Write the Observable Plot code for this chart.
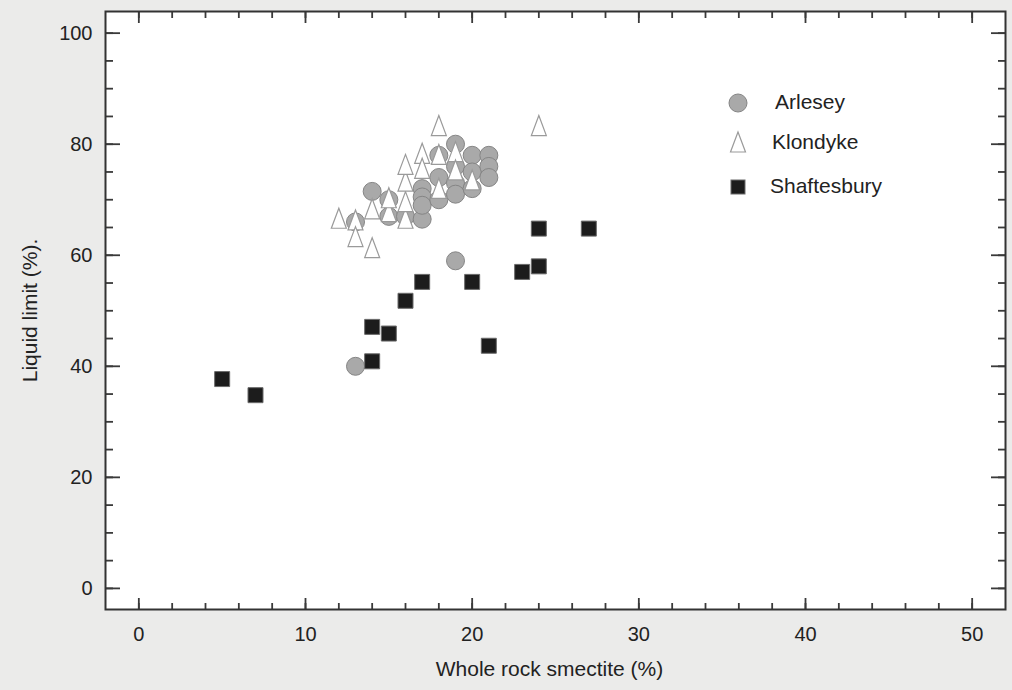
<!DOCTYPE html>
<html>
<head>
<meta charset="utf-8">
<script src="https://cdn.jsdelivr.net/npm/d3@7"></script>
<script src="https://cdn.jsdelivr.net/npm/@observablehq/plot@0.6"></script>
<style>
  html, body { margin: 0; padding: 0; background: #ebebea; }
  #wrap { position: relative; width: 1012px; height: 690px; font-family: "Liberation Sans", Arial, sans-serif; color: #222; }
  #legend { position: absolute; left: 725px; top: 88px; font-size: 21px; }
  #legend .row { position: absolute; left: 0; height: 30px; width: 220px; }
  #legend svg { position: absolute; left: 0; top: 0; }
  #legend span { position: absolute; white-space: nowrap; }
</style>
</head>
<body>
<div id="wrap"><div id="chart"></div><div id="legend"></div></div>
<script>
// ---- data ----
const seriesNames = ["Arlesey", "Klondyke", "Shaftesbury"];

const arleseyX = [13, 14, 15, 15, 16, 17, 17, 17, 17, 18, 18, 18, 19, 19, 19, 19, 20, 20, 20, 21, 21, 21, 19, 13];
const arleseyY = [66, 71.5, 70, 67, 67, 66.5, 72, 70.5, 69, 74, 78, 70, 80, 76, 73, 71, 78, 75, 72, 78, 76, 74, 59, 40];

const klondykeX = [12, 13, 13, 14, 14, 15, 15, 16, 16, 16, 16, 17, 17, 18, 18, 18, 19, 19, 20, 24];
const klondykeY = [66.3, 66, 63, 61, 68, 67.5, 70, 66.3, 69.3, 73, 76, 78, 75.3, 83, 77.8, 71.7, 78.3, 75, 73.2, 83];

const shaftesburyX = [5, 7, 14, 14, 15, 16, 17, 20, 21, 23, 24, 24, 27];
const shaftesburyY = [37.7, 34.8, 47.1, 40.9, 45.9, 51.8, 55.2, 55.2, 43.7, 57, 58, 64.8, 64.8];

const xMajorTicks = [0, 10, 20, 30, 40, 50];
const xMinorTicks = d3.range(0, 51, 2);
const yMajorTicks = [0, 20, 40, 60, 80, 100];
const yMinorTicks = d3.range(0, 101, 5);

const xLabel = "Whole rock smectite (%)";
const yLabel = "Liquid limit (%).";

// ---- build tables ----
const toRows = (xs, ys) => xs.map((x, i) => ({x, y: ys[i]}));
const arlesey = toRows(arleseyX, arleseyY);
const klondyke = toRows(klondykeX, klondykeY);
const shaftesbury = toRows(shaftesburyX, shaftesburyY);

// custom symbols
const tallTriangle = {draw(ctx) { ctx.moveTo(0, -12); ctx.lineTo(7.5, 8); ctx.lineTo(-7.5, 8); ctx.closePath(); }};
const bigSquare = {draw(ctx) { ctx.rect(-7.5, -7.5, 15, 15); }};

const tickStroke = "#3a3a3a";
const tickAxes = [];
for (const anchor of ["bottom", "top"]) {
  tickAxes.push(Plot.axisX(xMinorTicks, {anchor, tickSize: -6, text: null, label: null, stroke: tickStroke, strokeWidth: 1.8}));
  tickAxes.push(Plot.axisX(xMajorTicks, {anchor, tickSize: -11, text: null, label: null, stroke: tickStroke, strokeWidth: 1.8}));
}
for (const anchor of ["left", "right"]) {
  tickAxes.push(Plot.axisY(yMinorTicks, {anchor, tickSize: -8, text: null, label: null, stroke: tickStroke, strokeWidth: 1.8}));
  tickAxes.push(Plot.axisY(yMajorTicks, {anchor, tickSize: -15, text: null, label: null, stroke: tickStroke, strokeWidth: 1.8}));
}

const chart = Plot.plot({
  width: 1012,
  height: 690,
  marginLeft: 105,
  marginRight: 7,
  marginTop: 11,
  marginBottom: 81,
  x: {domain: [-2, 52]},
  y: {domain: [-3.8, 103.9]},
  style: {fontFamily: "'Liberation Sans', Arial, sans-serif", fontSize: "20px", color: "#222", background: "transparent", overflow: "visible"},
  marks: [
    Plot.frame({fill: "white", stroke: null}),
    ...tickAxes,
    Plot.axisX(xMajorTicks, {anchor: "bottom", tickSize: 0, tickPadding: 17, label: null, fontSize: 20}),
    Plot.axisY(yMajorTicks, {anchor: "left", tickSize: 0, tickPadding: 13, label: null, fontSize: 20}),
    Plot.text([xLabel], {frameAnchor: "bottom", lineAnchor: "middle", textAnchor: "middle", dx: -6, dy: 60, text: d => d, fontSize: 21}),
    Plot.text([yLabel], {frameAnchor: "left", textAnchor: "middle", lineAnchor: "middle", dx: -75, rotate: -90, text: d => d, fontSize: 21}),
    Plot.dot(arlesey, {x: "x", y: "y", r: 9, symbol: "circle", fill: "#a9a9a9", stroke: "#858585", strokeWidth: 1}),
    Plot.dot(klondyke, {x: "x", y: "y", symbol: tallTriangle, fill: "white", stroke: "#9a9a9a", strokeWidth: 1.2}),
    Plot.dot(shaftesbury, {x: "x", y: "y", symbol: bigSquare, fill: "#1c1c1c", stroke: "#6a6a6a", strokeWidth: 1}),
    Plot.frame({stroke: "#333", strokeWidth: 2})
  ]
});
document.getElementById("chart").appendChild(chart);

// ---- legend ----
const legend = document.getElementById("legend");
const legendSymbols = [
  '<circle cx="13" cy="15" r="9" fill="#a9a9a9" stroke="#858585"/>',
  '<path d="M13,4 L20.5,24 L5.5,24 Z" fill="white" stroke="#9a9a9a" stroke-width="1.2"/>',
  '<rect x="6" y="8" width="14" height="14" fill="#1c1c1c" stroke="#6a6a6a"/>'
];
const legendTops = [0, 40, 84];
const legendTextLeft = [50, 47, 45];
seriesNames.forEach((name, i) => {
  const row = document.createElement("div");
  row.className = "row";
  row.style.top = legendTops[i] + "px";
  row.innerHTML = `<svg width="26" height="30">${legendSymbols[i]}</svg><span style="left:${legendTextLeft[i]}px; top:2px">${name}</span>`;
  legend.appendChild(row);
});
</script>
</body>
</html>
